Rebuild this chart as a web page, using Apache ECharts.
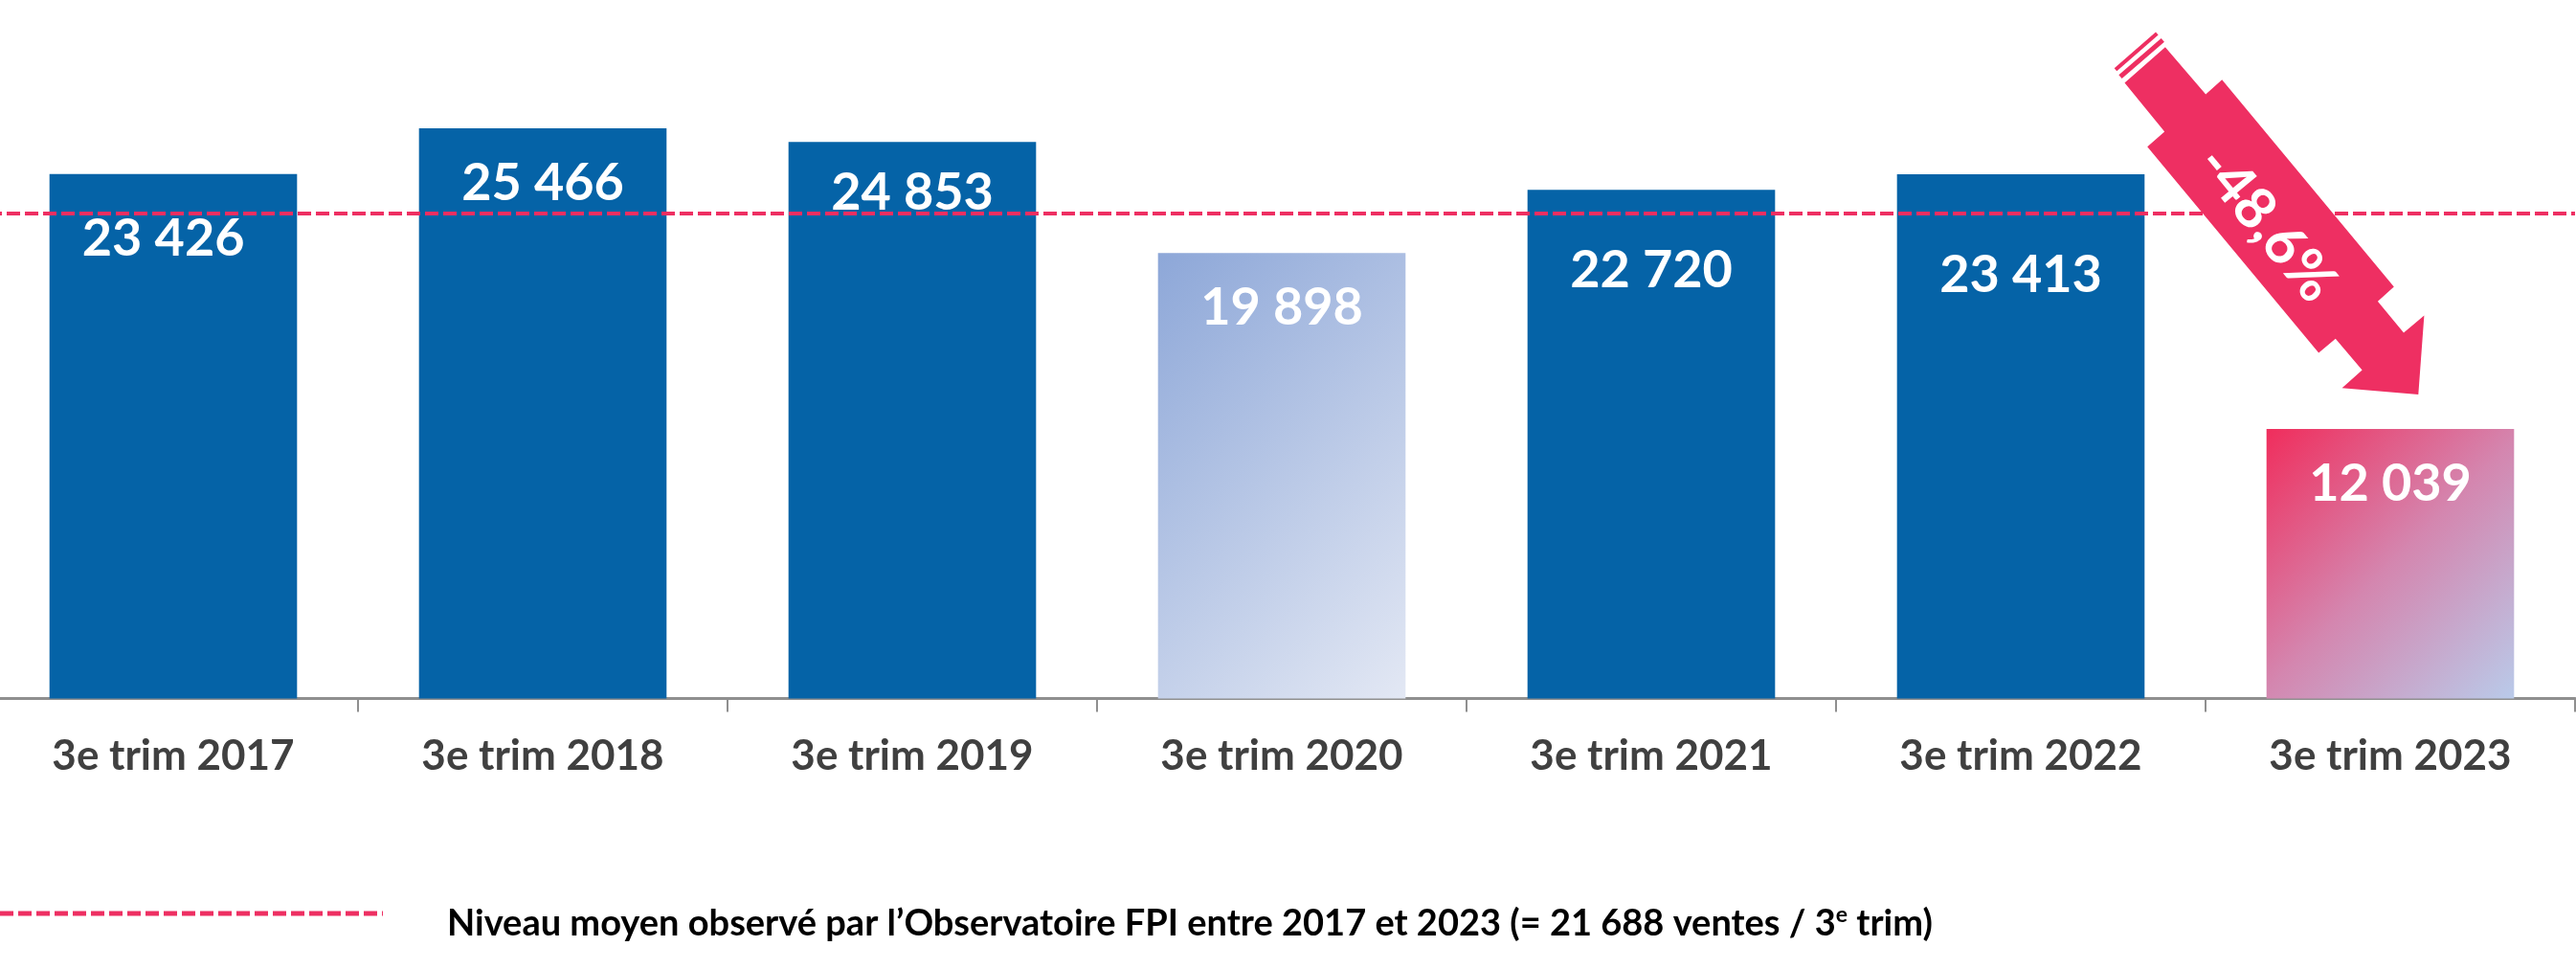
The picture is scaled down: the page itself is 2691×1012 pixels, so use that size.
<!DOCTYPE html>
<html><head><meta charset="utf-8">
<script src="https://cdn.jsdelivr.net/npm/echarts@6/dist/echarts.min.js"></script>
<style>html,body{margin:0;padding:0;background:#fff}#c{width:2691px;height:1012px}</style>
</head><body><div id="c"></div>
<script>
// ---- data ----
const categories = ['3e trim 2017','3e trim 2018','3e trim 2019','3e trim 2020','3e trim 2021','3e trim 2022','3e trim 2023'];
const ventes = [23426, 25466, 24853, 19898, 22720, 23413, 12039];
const moyenne = 21688;
const variation = '-48,6%';
const legendLabel = 'Niveau moyen observé par l’Observatoire FPI entre 2017 et 2023 (= 21 688 ventes / 3{sup|e} trim)';

// ---- styles ----
const BLUE = '#0563A7';
const PINK = '#EE2F62';
const FONT = 'Lato';
const grad2020 = new echarts.graphic.LinearGradient(0, 0, 1.4, 0.78, [
  {offset: 0, color: '#8DA7D8'}, {offset: 1, color: '#E3E8F4'}]);
const grad2023 = new echarts.graphic.LinearGradient(0, 0, 1.05, 0.96, [
  {offset: 0, color: '#F02D5C'}, {offset: 0.5, color: '#D486AF'}, {offset: 1, color: '#B9CBEA'}]);
const barFills = [BLUE, BLUE, BLUE, grad2020, BLUE, BLUE, grad2023];
const labelDx = ['46%', '50%', '50%', '50%', '50%', '50%', '50%'];
const labelDy = [68, 58, 53, 57, 84, 106, 58];

const fmt = v => String(v).replace(/\B(?=(\d{3})+(?!\d))/g, ' ');

const chart = echarts.init(document.getElementById('c'), null, {renderer: 'canvas'});

const option = {
  backgroundColor: '#fff',
  animation: false,
  grid: {left: -12, right: 1, top: 28, bottom: 282.5, containLabel: false, outerBoundsMode: 'none'},
  xAxis: {
    type: 'category',
    data: categories,
    axisLine: {lineStyle: {color: '#8F8F8F', width: 3}},
    axisTick: {show: true, length: 14, lineStyle: {color: '#8F8F8F', width: 2}},
    axisLabel: {color: '#404040', fontFamily: FONT, fontWeight: 'bold', fontSize: 44, margin: 38}
  },
  yAxis: {type: 'value', min: 0, max: 30000, show: false, splitLine: {show: false}},
  series: [
    {
      type: 'bar',
      name: 'ventes',
      barCategoryGap: '33%',
      data: ventes.map((v, i) => ({
        value: v,
        itemStyle: {color: barFills[i]},
        label: {position: [labelDx[i], labelDy[i]]}
      })),
      label: {
        show: true, formatter: p => fmt(p.value),
        color: '#fff', fontFamily: FONT, fontWeight: 'bold', fontSize: 54,
        align: 'center', verticalAlign: 'middle'
      }
    },
    {
      type: 'line',
      name: 'moyenne',
      data: [],
      symbol: 'none',
      lineStyle: {color: PINK, width: 4, type: [14, 5]},
      markLine: {
        silent: true, symbol: ['none', 'none'], label: {show: false},
        lineStyle: {color: PINK, width: 4, type: [14, 5]},
        data: [{yAxis: moyenne}]
      },
      z: 3
    }
  ]
};
chart.setOption(option);

// ---- arrow annotation anchored on the 2023 bar top ----
const anchor = chart.convertToPixel({seriesIndex: 0}, [6, ventes[6]]);
const arrowPts = [[-235.1,-398.7],[-192.8,-349.6],[-175.8,-364.8],[3.8,-148.6],[-13.1,-133.3],[14.0,-100.4],
  [35.4,-118.4],[29.3,-36.0],[-50.4,-42.8],[-29.4,-61.5],[-57.2,-94.3],[-74.8,-79.4],[-253.8,-294.7],
  [-235.8,-310.6],[-277.5,-361.5]];
const P = p => [anchor[0] + p[0], anchor[1] + p[1]];
const seg = (a, b, w) => {
  const A = P(a), B = P(b);
  return {type: 'line', z: 100, shape: {x1: A[0], y1: A[1], x2: B[0], y2: B[1]}, style: {stroke: PINK, lineWidth: w}};
};
const T = P([-129.4, -214.0]);
chart.setOption({
  graphic: [
    {type: 'polygon', z: 100, shape: {points: arrowPts.map(P)}, style: {fill: PINK}},
    seg([-282, -367.9], [-237.7, -406.2], 5),
    seg([-287, -375.2], [-243.7, -412.9], 4),
    {type: 'text', z: 101, x: T[0], y: T[1], rotation: -0.88,
      style: {text: variation, fill: '#fff', font: 'bold 60px Lato', align: 'center', verticalAlign: 'middle'}},
    // legend
    {type: 'line', z: 50, shape: {x1: 0, y1: 954, x2: 400, y2: 954},
      style: {stroke: PINK, lineWidth: 5, lineDash: [14, 5]}},
    {type: 'text', z: 50, x: 467, y: 965,
      style: {text: legendLabel, fill: '#000', font: 'bold 38px Lato', verticalAlign: 'middle',
        rich: {sup: {fill: '#000', font: 'bold 23px Lato', padding: [0, 0, 18, 0]}}}}
  ]
});
</script>
</body></html>
